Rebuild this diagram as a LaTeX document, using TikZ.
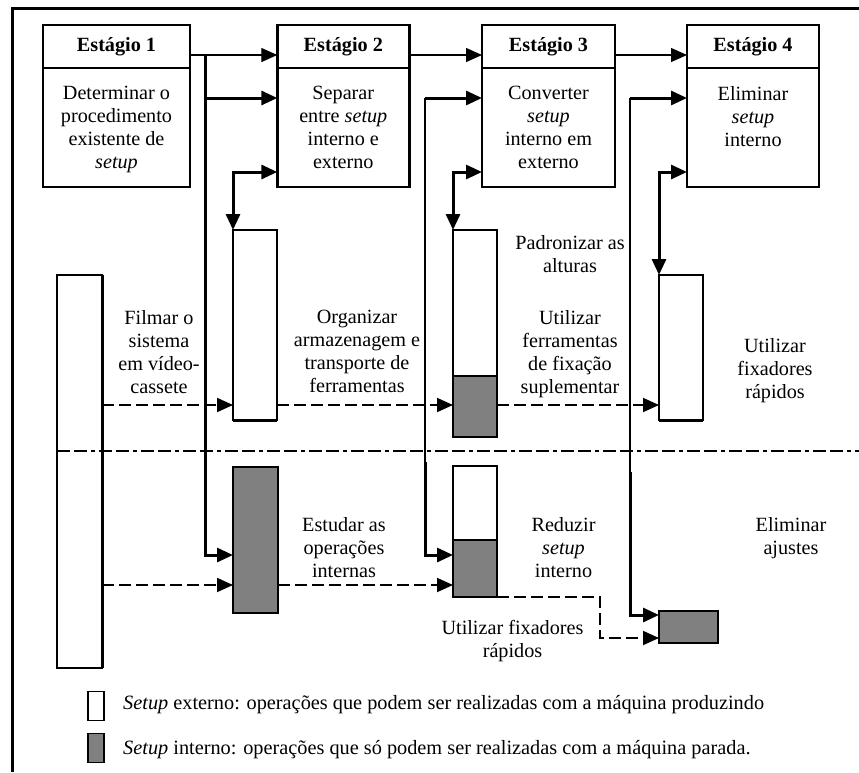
\documentclass[tikz,border=0pt]{standalone}
\usepackage{fontspec}
\setmainfont{Liberation Serif}
\usetikzlibrary{arrows.meta}
\definecolor{setupgray}{RGB}{128,128,128}
\begin{document}
\begin{tikzpicture}[x=1pt,y=-1pt,
  hdr/.style={draw,line width=2.4pt,inner sep=0pt,outer sep=0pt,minimum height=43pt,
    font=\bfseries\fontsize{20.2}{23}\selectfont},
  body/.style={draw,line width=2.4pt,inner sep=0pt,outer sep=0pt,minimum height=119pt},
  lbl/.style={font=\fontsize{20.2}{23}\selectfont,align=center,inner sep=0pt,anchor=north},
  bar/.style={draw,line width=2pt,fill=white,inner sep=0pt,outer sep=0pt},
  ibar/.style={bar,fill=setupgray},
  thinln/.style={line width=1.3pt},
  thickln/.style={line width=3pt},
  flow/.style={line width=1.8pt,dash pattern=on 12pt off 5pt},
  divider/.style={line width=1.8pt,dash pattern=on 13pt off 4pt on 13pt off 4pt on 4pt off 4pt},
  tip/.style={-{Triangle[length=16pt,width=14pt]}},
  tips/.style={{Triangle[length=16pt,width=14pt]}-{Triangle[length=16pt,width=14pt]}},
  legtxt/.style={font=\fontsize{20.3}{23}\selectfont,inner sep=0pt,anchor=base west}
]
\useasboundingbox (0,0) rectangle (859,772);

% frame
\draw[line width=3pt] (12,772) -- (12,8) -- (859,8);

% stage boxes
\node[hdr,minimum width=147pt] (s1h) at (116.5,46.5) {Estágio 1};
\node[body,minimum width=147pt] (s1b) at (116.5,127.5) {};
\node[hdr,minimum width=132pt] (s2h) at (343.3,46.5) {Estágio 2};
\node[body,minimum width=132pt] (s2b) at (343.3,127.5) {};
\node[hdr,minimum width=133pt] (s3h) at (548.5,46.5) {Estágio 3};
\node[body,minimum width=133pt] (s3b) at (548.5,127.5) {};
\node[hdr,minimum width=132pt] (s4h) at (753,46.5) {Estágio 4};
\node[body,minimum width=132pt] (s4b) at (753,127.5) {};

\node[lbl] (t1) at (116.5,86) {Determinar o\\procedimento\\existente de\\\textit{setup}};
\node[lbl] (t2) at (343.3,86) {Separar\\entre \textit{setup}\\interno e\\externo};
\node[lbl] (t3) at (548.5,86) {Converter\\\textit{setup}\\interno em\\externo};
\node[lbl] (t4) at (753,86) {Eliminar\\\textit{setup}\\interno};

% operation bars
\node[bar,minimum width=45pt,minimum height=393pt,line width=1.3pt] (f1) at (79.5,471.5) {};
\node[bar,minimum width=44pt,minimum height=190pt] (b2) at (255,325) {};
\node[bar,minimum width=44pt,minimum height=207pt] (b3) at (475,333.5) {};
\node[bar,minimum width=44pt,minimum height=145pt] (b4) at (681,347.5) {};
\node[ibar,minimum width=45pt,minimum height=146pt] (g2) at (255.5,540) {};
\node[bar,minimum width=44pt,minimum height=131pt] (g3) at (475,531.5) {};
\node[ibar,minimum width=59pt,minimum height=32pt] (g4) at (688.5,627) {};

% internal parts of the mixed bars
\fill[setupgray] (b3.south west) rectangle (b3.east |- 0,376);
\fill[setupgray] (g3.south west) rectangle (g3.east |- 0,540);
\draw[line width=2pt] (b3.west |- 0,376) -- (b3.east |- 0,376);
\draw[line width=1.3pt] (g3.west |- 0,540) -- (g3.east |- 0,540);
\draw[line width=2.4pt] (b3.south west) rectangle (b3.north east);
\draw[line width=2.4pt] (g3.south west) rectangle (g3.north east);
\draw[thickln] (f1.north east) -- (f1.south east);
\draw[thickln] (b2.south west) -- (b2.south east);
\draw[thickln] (b4.south west) -- (b4.south east);

% stage sequence
\draw[thinln,tip] ([yshift=-8.5pt]s1h.east) -- ([yshift=-8.5pt]s2h.west);
\draw[thinln,tip] ([yshift=-8.5pt]s2h.east) -- ([yshift=-8.5pt]s3h.west);
\draw[thinln,tip] ([yshift=-8.5pt]s3h.east) -- ([yshift=-8.5pt]s4h.west);

% branches feeding the stages
\coordinate (j1) at (205,55);
\coordinate (j1b) at (205,98);
\draw[thickln,tip] (j1b) -- (s2b.west |- j1b);
\draw[thickln,tip] (j1) |- (g2.west |- 0,555);

\coordinate (j2) at (425,98);
\coordinate (j2m) at (425,462);
\draw[thickln,tip] (j2) -- (s3b.west |- j2);
\draw[thinln] (j2) -- (j2m);
\draw[thickln,tip] (j2m) |- (g3.west |- 0,555);

\coordinate (j3) at (630,98);
\coordinate (j3m) at (630,472);
\draw[thickln,tip] (j3) -- (s4b.west |- j3);
\draw[thinln] (j3) -- (j3m);
\draw[thickln,tip] (j3m) |- (g4.west |- 0,615);

% links between stages and bars
\draw[thickln,tips] (b2.north west) |- (s2b.west |- 0,172);
\draw[thickln,tips] (b3.north west) |- (s3b.west |- 0,172);
\draw[thickln,tips] (b4.north west) |- (s4b.west |- 0,172);

% external / internal flows
\draw[flow,tip] (f1.east |- 0,405) -- (b2.west |- 0,405);
\draw[flow,tip] (b2.east |- 0,405) -- (b3.west |- 0,405);
\draw[flow,tip] (b3.east |- 0,405) -- (b4.west |- 0,405);
\draw[flow,tip] (f1.east |- 0,585) -- (g2.west |- 0,585);
\draw[flow,tip] (g2.east |- 0,585) -- (g3.west |- 0,585);
\coordinate (k1) at (600,597);
\draw[flow,tip] (g3.south east) -- (k1) |- (g4.west |- 0,638);

% divider between external and internal setup
\draw[divider] (f1.west |- 0,451) -- (859,451);

% operation labels
\node[lbl] (o1) at (159,310) {Filmar o\\sistema\\em vídeo-\\cassete};
\node[lbl] (o2) at (357,310) {Organizar\\armazenagem e\\transporte de\\ferramentas};
\node[lbl] (o3) at (570,235) {Padronizar as\\alturas};
\node[lbl] (o4) at (570,310) {Utilizar\\ferramentas\\de fixação\\suplementar};
\node[lbl] (o5) at (775,338) {Utilizar\\fixadores\\rápidos};
\node[lbl] (o6) at (344,517) {Estudar as\\operações\\internas};
\node[lbl] (o7) at (563.5,517) {Reduzir\\\textit{setup}\\interno};
\node[lbl] (o8) at (791,517) {Eliminar\\ajustes};
\node[lbl] (o9) at (512.5,620) {Utilizar fixadores\\rápidos};

% legend
\node[bar,line width=1.8pt,minimum width=16pt,minimum height=29pt] (lw) at (96,706) {};
\node[ibar,line width=1.8pt,minimum width=16pt,minimum height=29pt] (lg) at (96,748) {};
\node[legtxt] (lwt) at (123,709) {\textit{Setup} externo: operações que podem ser realizadas com a máquina produzindo};
\node[legtxt] (lgt) at (123,754) {\textit{Setup} interno: operações que só podem ser realizadas com a máquina parada.};
\end{tikzpicture}
\end{document}
